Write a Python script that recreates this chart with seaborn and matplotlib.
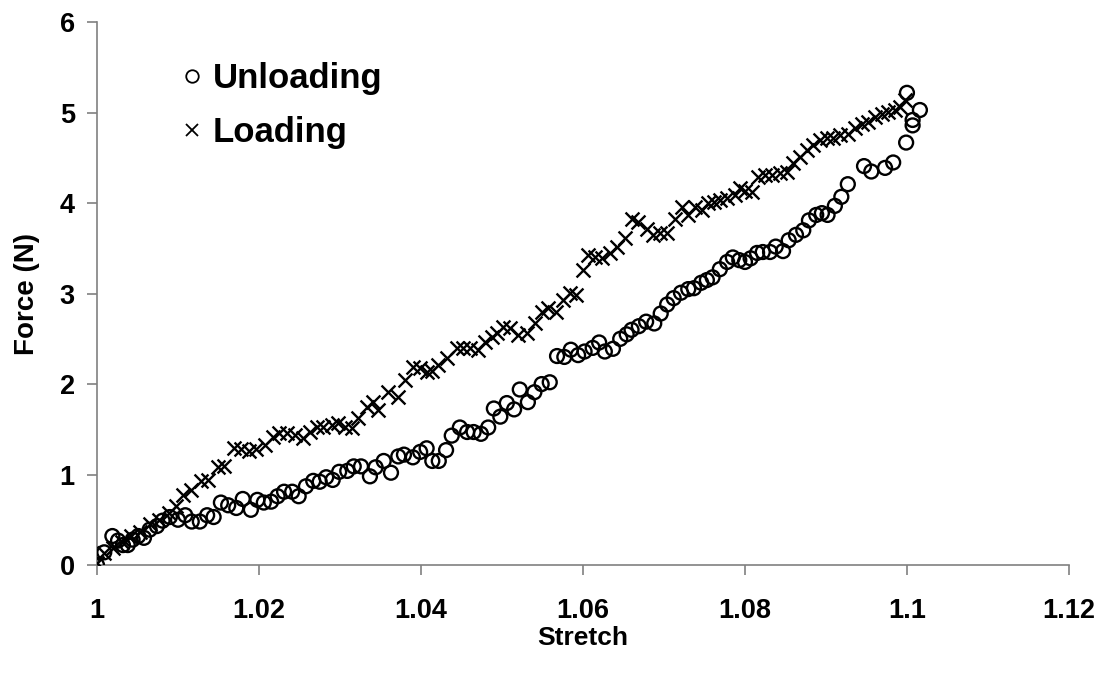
import matplotlib
matplotlib.use("Agg")
import matplotlib.pyplot as plt
from matplotlib.lines import Line2D
import seaborn as sns
import pandas as pd

# Unloading branch
unload_stretch = [
    1.0000, 1.0009, 1.0019, 1.0026, 1.0032, 1.0038, 1.0044, 1.0051, 1.0058, 1.0065,
    1.0074, 1.0081, 1.0090, 1.0100, 1.0109, 1.0117, 1.0127, 1.0136, 1.0144, 1.0153,
    1.0162, 1.0172, 1.0180, 1.0190, 1.0198, 1.0206, 1.0215, 1.0223, 1.0231, 1.0241,
    1.0249, 1.0258, 1.0267, 1.0275, 1.0283, 1.0291, 1.0299, 1.0309, 1.0317, 1.0326,
    1.0337, 1.0344, 1.0354, 1.0363, 1.0372, 1.0379, 1.0390, 1.0399, 1.0407, 1.0414,
    1.0422, 1.0431, 1.0438, 1.0448, 1.0457, 1.0465, 1.0474, 1.0483, 1.0490, 1.0498,
    1.0506, 1.0515, 1.0522, 1.0532, 1.0540, 1.0549, 1.0559, 1.0568, 1.0577, 1.0585,
    1.0594, 1.0602, 1.0612, 1.0620, 1.0627, 1.0637, 1.0646, 1.0654, 1.0660, 1.0669,
    1.0678, 1.0688, 1.0696, 1.0704, 1.0712, 1.0721, 1.0730, 1.0737, 1.0746, 1.0753,
    1.0760, 1.0769, 1.0778, 1.0785, 1.0793, 1.0800, 1.0807, 1.0815, 1.0822, 1.0831,
    1.0838, 1.0847, 1.0854, 1.0863, 1.0872, 1.0879, 1.0888, 1.0895, 1.0902, 1.0911,
    1.0919, 1.0927, 1.0947, 1.0956, 1.0973, 1.0983, 1.0999, 1.1007, 1.1007, 1.1016,
    1.1000,
]
unload_force = [
    0.00, 0.14, 0.32, 0.27, 0.22, 0.22, 0.28, 0.32, 0.30, 0.39,
    0.43, 0.49, 0.53, 0.50, 0.55, 0.48, 0.48, 0.55, 0.53, 0.69,
    0.66, 0.63, 0.73, 0.61, 0.72, 0.69, 0.70, 0.76, 0.81, 0.81,
    0.76, 0.87, 0.93, 0.92, 0.97, 0.94, 1.03, 1.04, 1.09, 1.09,
    0.98, 1.08, 1.15, 1.02, 1.20, 1.22, 1.19, 1.25, 1.29, 1.15,
    1.15, 1.27, 1.43, 1.52, 1.47, 1.47, 1.45, 1.52, 1.73, 1.64,
    1.79, 1.72, 1.94, 1.80, 1.91, 2.00, 2.02, 2.31, 2.30, 2.38,
    2.32, 2.36, 2.40, 2.46, 2.36, 2.39, 2.50, 2.55, 2.60, 2.64,
    2.69, 2.67, 2.78, 2.88, 2.95, 3.01, 3.05, 3.06, 3.12, 3.15,
    3.18, 3.27, 3.35, 3.40, 3.37, 3.35, 3.39, 3.45, 3.46, 3.46,
    3.52, 3.47, 3.59, 3.65, 3.70, 3.81, 3.87, 3.89, 3.87, 3.97,
    4.07, 4.21, 4.41, 4.35, 4.39, 4.45, 4.67, 4.86, 4.92, 5.03,
    5.22,
]

# Loading branch
load_stretch = [
    1.0000, 1.0009, 1.0020, 1.0031, 1.0042, 1.0053, 1.0065, 1.0077, 1.0089, 1.0098,
    1.0106, 1.0116, 1.0128, 1.0137, 1.0149, 1.0157, 1.0169, 1.0178, 1.0188, 1.0196,
    1.0207, 1.0217, 1.0225, 1.0235, 1.0244, 1.0254, 1.0263, 1.0272, 1.0279, 1.0290,
    1.0298, 1.0306, 1.0315, 1.0322, 1.0333, 1.0341, 1.0347, 1.0359, 1.0372, 1.0380,
    1.0390, 1.0399, 1.0407, 1.0414, 1.0421, 1.0432, 1.0444, 1.0452, 1.0460, 1.0470,
    1.0479, 1.0488, 1.0494, 1.0501, 1.0510, 1.0520, 1.0531, 1.0541, 1.0549, 1.0557,
    1.0567, 1.0575, 1.0584, 1.0591, 1.0600, 1.0606, 1.0615, 1.0623, 1.0633, 1.0642,
    1.0652, 1.0661, 1.0668, 1.0679, 1.0686, 1.0695, 1.0704, 1.0714, 1.0722, 1.0730,
    1.0738, 1.0747, 1.0754, 1.0762, 1.0769, 1.0778, 1.0788, 1.0794, 1.0800, 1.0809,
    1.0816, 1.0825, 1.0833, 1.0843, 1.0852, 1.0859, 1.0868, 1.0877, 1.0884, 1.0893,
    1.0901, 1.0909, 1.0917, 1.0927, 1.0936, 1.0944, 1.0952, 1.0960, 1.0969, 1.0977,
    1.0985, 1.0991, 1.0998,
]
load_force = [
    0.02, 0.13, 0.19, 0.25, 0.32, 0.36, 0.45, 0.50, 0.57, 0.65,
    0.77, 0.83, 0.93, 0.94, 1.08, 1.09, 1.29, 1.28, 1.26, 1.28,
    1.33, 1.41, 1.46, 1.46, 1.44, 1.40, 1.47, 1.52, 1.52, 1.55,
    1.57, 1.52, 1.51, 1.62, 1.75, 1.80, 1.71, 1.91, 1.86, 2.04,
    2.19, 2.18, 2.13, 2.15, 2.21, 2.29, 2.40, 2.40, 2.40, 2.38,
    2.46, 2.52, 2.57, 2.63, 2.62, 2.54, 2.57, 2.67, 2.80, 2.84,
    2.80, 2.93, 3.01, 2.98, 3.26, 3.43, 3.40, 3.39, 3.45, 3.51,
    3.62, 3.83, 3.79, 3.72, 3.65, 3.67, 3.67, 3.83, 3.96, 3.87,
    3.96, 3.92, 4.00, 4.01, 4.03, 4.06, 4.09, 4.17, 4.14, 4.12,
    4.29, 4.31, 4.31, 4.33, 4.34, 4.44, 4.51, 4.59, 4.64, 4.70,
    4.72, 4.72, 4.75, 4.77, 4.83, 4.88, 4.90, 4.95, 4.99, 5.01,
    5.03, 5.06, 5.14,
]

x_ticks = [1.0, 1.02, 1.04, 1.06, 1.08, 1.1, 1.12]
x_tick_labels = ["1", "1.02", "1.04", "1.06", "1.08", "1.1", "1.12"]
y_ticks = [0, 1, 2, 3, 4, 5, 6]

unload_df = pd.DataFrame({"Stretch": unload_stretch, "Force": unload_force})
load_df = pd.DataFrame({"Stretch": load_stretch, "Force": load_force})

sns.set_theme(style="white", rc={
    "text.color": "black",
    "axes.labelcolor": "black",
    "xtick.color": "black",
    "ytick.color": "black",
})
plt.rcParams["font.family"] = ["Liberation Sans", "DejaVu Sans"]

fig = plt.figure(figsize=(11.02, 6.75), dpi=100)
ax = fig.add_axes([0.088, 0.163, 0.882, 0.804])

sns.scatterplot(data=unload_df, x="Stretch", y="Force", ax=ax, marker="o", s=100,
                color="black", edgecolor="black", linewidth=1.7, legend=False, zorder=3)
ax.collections[-1].set_facecolor("none")
sns.scatterplot(data=load_df, x="Stretch", y="Force", ax=ax, marker="x", s=100,
                color="black", linewidth=1.7, legend=False, zorder=3)

ax.set_xlim(1.0, 1.12)
ax.set_ylim(0, 6)
ax.set_xticks(x_ticks)
ax.set_xticklabels(x_tick_labels)
ax.set_yticks(y_ticks)

spine_color = "#808080"
for side in ("top", "right"):
    ax.spines[side].set_visible(False)
for side in ("left", "bottom"):
    ax.spines[side].set_color(spine_color)
    ax.spines[side].set_linewidth(1.2)
ax.tick_params(axis="both", which="major", direction="out", length=7, width=1.2,
               color=spine_color, labelcolor="black", labelsize=19.5,
               bottom=True, left=True)
ax.tick_params(axis="x", pad=17)
ax.tick_params(axis="y", pad=9)
for lbl in ax.get_xticklabels() + ax.get_yticklabels():
    lbl.set_fontweight("bold")

ax.set_xlabel("Stretch", fontsize=19, fontweight="bold", labelpad=1)
ax.set_ylabel("Force (N)", fontsize=20, fontweight="bold", labelpad=14)

handles = [
    Line2D([], [], linestyle="none", marker="o", markersize=9, markerfacecolor="none",
           markeredgecolor="black", markeredgewidth=1.3, label="Unloading"),
    Line2D([], [], linestyle="none", marker="x", markersize=8, color="black",
           markeredgewidth=1.3, label="Loading"),
]
ax.legend(handles=handles, loc="upper left", bbox_to_anchor=(0.073, 0.953),
          frameon=False, prop={"weight": "bold", "size": 25}, handlelength=0.6,
          handletextpad=0.3, labelspacing=0.62, borderaxespad=0)

fig.savefig("out.png", dpi=100, facecolor="white")
